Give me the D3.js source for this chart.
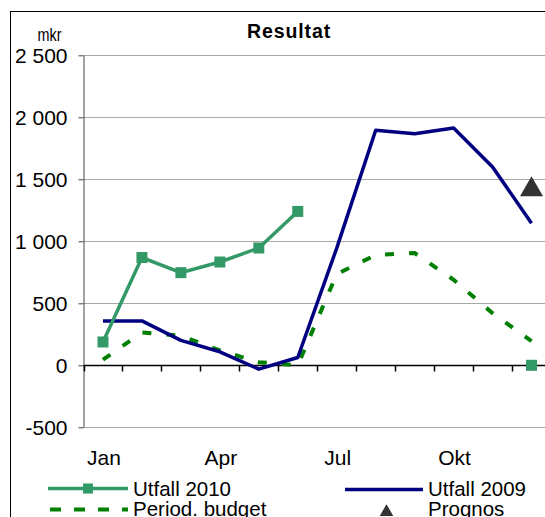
<!DOCTYPE html>
<html>
<head>
<meta charset="utf-8">
<script src="https://cdn.jsdelivr.net/npm/d3@7"></script>
<style>
  body { margin: 0; background: #fff; }
  svg { display: block; font-family: "Liberation Sans", Arial, sans-serif; }
</style>
</head>
<body>
<div id="chart"></div>
<script>
const months = ["Jan", "Feb", "Mar", "Apr", "Maj", "Jun", "Jul", "Aug", "Sep", "Okt", "Nov", "Dec"];
const monthLabels = ["Jan", "Apr", "Jul", "Okt"];
const utfall2010 = [188, 869, 747, 833, 946, 1241, null, null, null, null, null, 0];
const utfall2009 = [358, 358, 201, 109, -31, 63, 945, 1895, 1868, 1914, 1600, 1145];
const budget = [45, 265, 238, 120, 25, 0, 735, 890, 905, 690, 420, 195];
const prognos = [null, null, null, null, null, null, null, null, null, null, null, 1434];
const yTicks = [-500, 0, 500, 1000, 1500, 2000, 2500];

const width = 545;
const height = 517;

const green = "#339966";
const navy = "#000080";
const budgetGreen = "#008000";
const dark = "#333333";

const svg = d3.select("#chart")
  .append("svg")
  .attr("width", width)
  .attr("height", height);

// chart frame (runs off the right and bottom edge)
svg.append("rect")
  .attr("x", 10.5)
  .attr("y", 11.5)
  .attr("width", 700)
  .attr("height", 700)
  .attr("fill", "none")
  .attr("stroke", "#000")
  .attr("stroke-width", 1);

const x = d3.scaleBand().domain(months).range([83.5, 551]).padding(0);
const y = d3.scaleLinear().domain([-500, 2500]).range([427.3, 55.3]);
const cx = (i) => x(months[i]) + x.bandwidth() / 2;

const locale = d3.formatLocale({ decimal: ",", thousands: " ", grouping: [3], currency: ["", ""], minus: "-" });
const fmt = locale.format(",d");

// gridlines
svg.append("g")
  .selectAll("line")
  .data(yTicks.filter((d) => d !== 0))
  .enter()
  .append("line")
  .attr("x1", 83.5)
  .attr("x2", width)
  .attr("y1", (d) => Math.round(y(d)) + 0.5)
  .attr("y2", (d) => Math.round(y(d)) + 0.5)
  .attr("stroke", "#a8a8a8")
  .attr("stroke-width", 1);

// y axis
const yAxis = svg.append("g")
  .attr("transform", "translate(83.5,0)")
  .call(d3.axisLeft(y).tickValues(yTicks).tickSize(5).tickSizeOuter(0).tickPadding(11).tickFormat(fmt));
yAxis.select(".domain").attr("stroke", "#444");
yAxis.selectAll(".tick line").attr("stroke", "#444");
yAxis.selectAll("text")
  .attr("font-size", 21)
  .attr("font-family", "Liberation Sans, Arial, sans-serif")
  .attr("fill", "#000")
  .attr("dy", "0.35em");

// x axis at zero
const y0 = Math.round(y(0)) + 0.5;
svg.append("line")
  .attr("x1", 83.5)
  .attr("x2", width)
  .attr("y1", y0)
  .attr("y2", y0)
  .attr("stroke", "#000")
  .attr("stroke-width", 1.5);

svg.append("g")
  .selectAll("line")
  .data(months)
  .enter()
  .append("line")
  .attr("x1", (d) => Math.round(x(d)) + 0.5)
  .attr("x2", (d) => Math.round(x(d)) + 0.5)
  .attr("y1", y0)
  .attr("y2", y0 + 6)
  .attr("stroke", "#000")
  .attr("stroke-width", 1.5);

svg.append("g")
  .selectAll("text")
  .data(monthLabels)
  .enter()
  .append("text")
  .attr("x", (d) => x(d) + x.bandwidth() / 2 + 1)
  .attr("y", 465)
  .attr("text-anchor", "middle")
  .attr("font-size", 21)
  .text((d) => d);

// title and unit
svg.append("text")
  .attr("x", 289)
  .attr("y", 38)
  .attr("text-anchor", "middle")
  .attr("font-size", 19.5)
  .attr("font-weight", "bold")
  .attr("letter-spacing", 0.9)
  .text("Resultat");

svg.append("text")
  .attr("x", 37.5)
  .attr("y", 41)
  .attr("font-size", 19)
  .attr("textLength", 24)
  .attr("lengthAdjust", "spacingAndGlyphs")
  .text("mkr");

// series
const line = d3.line()
  .defined((d) => d !== null)
  .x((d, i) => cx(i))
  .y((d) => y(d));

svg.append("path")
  .datum(budget)
  .attr("d", line)
  .attr("fill", "none")
  .attr("stroke", budgetGreen)
  .attr("stroke-width", 4)
  .attr("stroke-dasharray", "9,15");

svg.append("path")
  .datum(utfall2009)
  .attr("d", line)
  .attr("fill", "none")
  .attr("stroke", navy)
  .attr("stroke-width", 3.5)
  .attr("stroke-linejoin", "round");

svg.append("path")
  .datum(utfall2010)
  .attr("d", line)
  .attr("fill", "none")
  .attr("stroke", green)
  .attr("stroke-width", 3.5);

svg.append("g")
  .selectAll("rect")
  .data(utfall2010.map((v, i) => [i, v]).filter((d) => d[1] !== null))
  .enter()
  .append("rect")
  .attr("x", (d) => cx(d[0]) - 5.5)
  .attr("y", (d) => y(d[1]) - 5.5)
  .attr("width", 11)
  .attr("height", 11)
  .attr("fill", green);

const triangle = d3.symbol().type(d3.symbolTriangle);
svg.append("g")
  .selectAll("path")
  .data(prognos.map((v, i) => [i, v]).filter((d) => d[1] !== null))
  .enter()
  .append("path")
  .attr("d", triangle.size(230))
  .attr("transform", (d) => `translate(${cx(d[0])},${y(d[1]) + 2})`)
  .attr("fill", dark);

// legend (second row is cut by the bottom edge, as in the original)
const legend = svg.append("g").attr("font-size", 20.5);

legend.append("line")
  .attr("x1", 48).attr("x2", 128).attr("y1", 488.5).attr("y2", 488.5)
  .attr("stroke", green).attr("stroke-width", 3.5);
legend.append("rect")
  .attr("x", 83).attr("y", 483.5).attr("width", 10).attr("height", 10)
  .attr("fill", green);
legend.append("text").attr("x", 133).attr("y", 495.5).text("Utfall 2010");

legend.append("line")
  .attr("x1", 345).attr("x2", 423).attr("y1", 489.5).attr("y2", 489.5)
  .attr("stroke", navy).attr("stroke-width", 3.5);
legend.append("text").attr("x", 428).attr("y", 495.5).text("Utfall 2009");

legend.append("line")
  .attr("x1", 50).attr("x2", 128).attr("y1", 509.5).attr("y2", 509.5)
  .attr("stroke", budgetGreen).attr("stroke-width", 4)
  .attr("stroke-dasharray", "11,13");
legend.append("text").attr("x", 133).attr("y", 516).text("Period. budget");

legend.append("path")
  .attr("d", triangle.size(80))
  .attr("transform", "translate(386.5,512)")
  .attr("fill", dark);
legend.append("text").attr("x", 428).attr("y", 516).text("Prognos");
</script>
</body>
</html>
